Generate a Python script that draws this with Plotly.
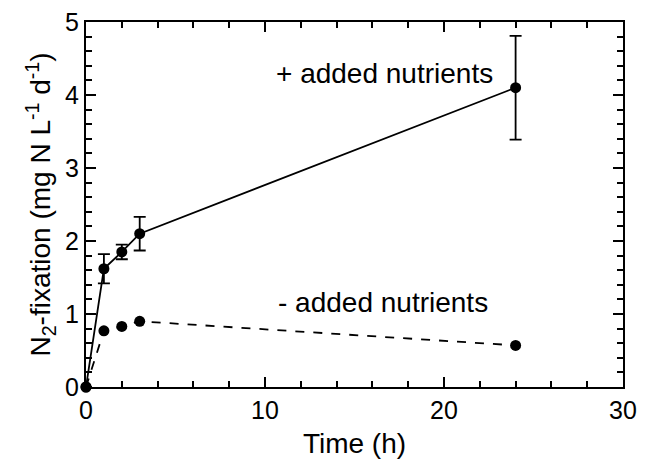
import plotly.graph_objects as go

time_h = [0, 1, 2, 3, 24]
plus_nutrients = [0, 1.62, 1.85, 2.10, 4.10]
plus_err = [0, 0.20, 0.10, 0.23, 0.71]
minus_nutrients = [0, 0.77, 0.83, 0.90, 0.57]

x_ticks = [0, 10, 20, 30]
y_ticks = [0, 1, 2, 3, 4, 5]

font_family = "Liberation Sans, Arial, Helvetica, sans-serif"

fig = go.Figure()
fig.add_trace(go.Scatter(
    x=time_h, y=plus_nutrients, mode="lines+markers",
    line=dict(color="black", width=1.8),
    marker=dict(color="black", size=11),
    error_y=dict(type="data", array=plus_err, color="black", thickness=1.8, width=6),
    cliponaxis=False, showlegend=False,
))
fig.add_trace(go.Scatter(
    x=time_h, y=minus_nutrients, mode="lines+markers",
    line=dict(color="black", width=1.8, dash="dash"),
    marker=dict(color="black", size=11),
    cliponaxis=False, showlegend=False,
))

fig.add_annotation(x=16.65, y=4.30, text="+ added nutrients", showarrow=False,
                   xref="x", yref="y", font=dict(size=28, color="black", family=font_family))
fig.add_annotation(x=16.6, y=1.16, text="- added nutrients", showarrow=False,
                   xref="x", yref="y", font=dict(size=28, color="black", family=font_family))

axis_common = dict(
    showline=True, linecolor="black", linewidth=2, mirror="allticks",
    ticks="inside", tickcolor="black", tickwidth=1.6, ticklen=10,
    showgrid=False, zeroline=False, ticklabeloverflow="allow",
    tickfont=dict(size=25, color="black", family=font_family),
)

fig.update_xaxes(
    range=[0, 30], tickvals=x_ticks,
    title=dict(text="Time (h)", font=dict(size=28, color="black", family=font_family), standoff=10),
    minor=dict(ticks="inside", dtick=2, ticklen=6, tickcolor="black", tickwidth=1.6),
    **axis_common,
)
fig.update_yaxes(
    range=[0, 5], tickvals=y_ticks,
    title=dict(text="N<sub>2</sub>-fixation (mg N L<sup>-1</sup> d<sup>-1</sup>)",
               font=dict(size=28, color="black", family=font_family), standoff=6),
    minor=dict(ticks="inside", dtick=0.2, ticklen=6, tickcolor="black", tickwidth=1.6),
    **axis_common,
)

fig.update_layout(
    width=637, height=460,
    margin=dict(l=78, r=22, t=14, b=81, autoexpand=False),
    plot_bgcolor="white", paper_bgcolor="white",
)

fig.write_html("out.html")
